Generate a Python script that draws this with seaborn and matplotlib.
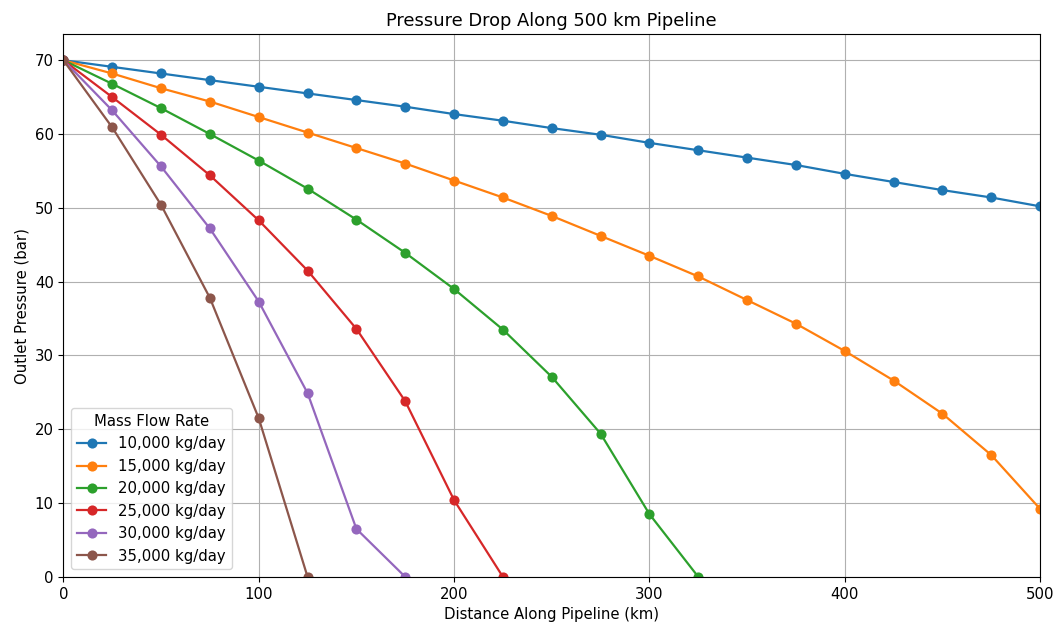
import matplotlib
matplotlib.use("Agg")
import matplotlib.pyplot as plt
import seaborn as sns
import pandas as pd

distance = [0, 25, 50, 75, 100, 125, 150, 175, 200, 225, 250, 275, 300, 325, 350, 375, 400, 425, 450, 475, 500]

flow_labels = ["10,000 kg/day", "15,000 kg/day", "20,000 kg/day", "25,000 kg/day", "30,000 kg/day", "35,000 kg/day"]

p_10000 = [70, 69.1, 68.2, 67.3, 66.4, 65.5, 64.6, 63.7, 62.7, 61.8, 60.8, 59.9, 58.8, 57.8, 56.8, 55.8, 54.6, 53.5, 52.4, 51.4, 50.2]
p_15000 = [70, 68.2, 66.2, 64.4, 62.3, 60.2, 58.1, 56.0, 53.7, 51.4, 48.9, 46.2, 43.5, 40.7, 37.5, 34.3, 30.6, 26.6, 22.1, 16.5, 9.2]
p_20000 = [70, 66.8, 63.5, 60.0, 56.4, 52.6, 48.4, 43.9, 39.0, 33.5, 27.1, 19.4, 8.5, 0]
p_25000 = [70, 65.0, 59.9, 54.4, 48.3, 41.5, 33.6, 23.8, 10.4, 0]
p_30000 = [70, 63.2, 55.6, 47.2, 37.3, 24.9, 6.5, 0]
p_35000 = [70, 60.9, 50.4, 37.8, 21.5, 0]

series = [p_10000, p_15000, p_20000, p_25000, p_30000, p_35000]

rows = []
for label, vals in zip(flow_labels, series):
    for d, p in zip(distance, vals):
        rows.append({"Distance": d, "Pressure": p, "Flow": label})
df = pd.DataFrame(rows)

plt.rcParams["font.size"] = 10.7

fig, ax = plt.subplots(figsize=(10.56, 6.25), dpi=100)
sns.lineplot(data=df, x="Distance", y="Pressure", hue="Flow", hue_order=flow_labels,
             palette="tab10", marker="o", markersize=7.3, markeredgewidth=0,
             linewidth=1.6, ax=ax, sort=False, estimator=None)

ax.set_xlim(0, 500)
ax.set_ylim(0, 73.5)
ax.grid(True)
ax.set_title("Pressure Drop Along 500 km Pipeline")
ax.set_xlabel("Distance Along Pipeline (km)")
ax.set_ylabel("Outlet Pressure (bar)")
ax.legend(title="Mass Flow Rate", loc="lower left")

fig.subplots_adjust(left=0.06, right=0.985, top=0.945, bottom=0.077)
fig.savefig("out.png", dpi=100)
